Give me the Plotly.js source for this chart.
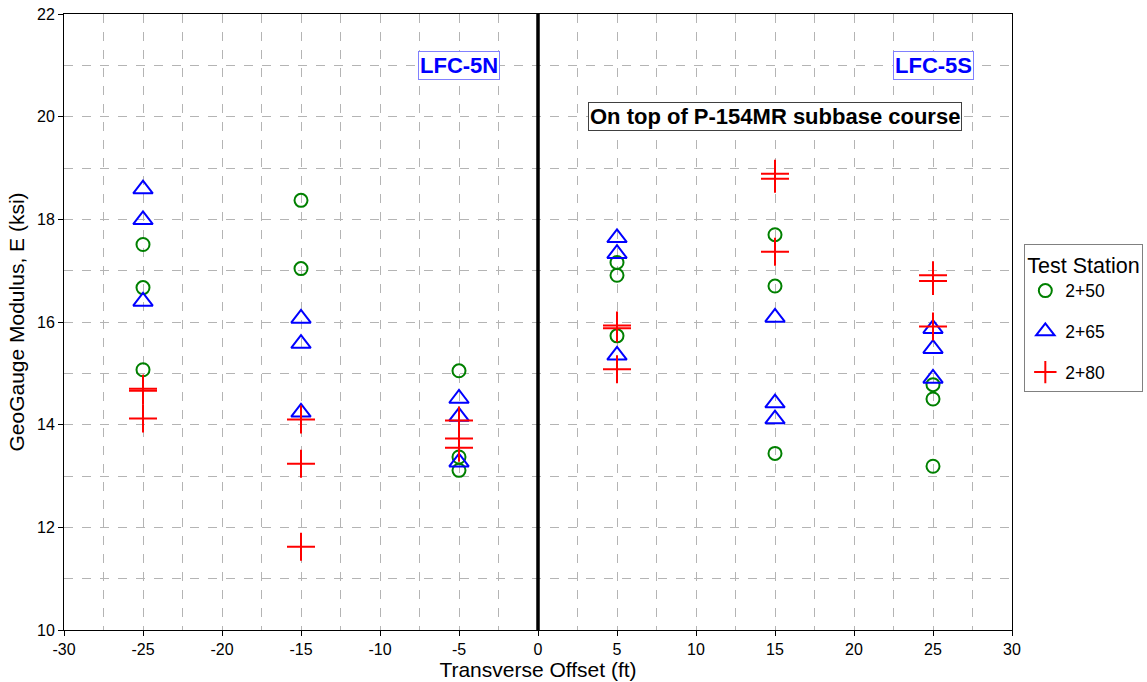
<!DOCTYPE html>
<html>
<head>
<meta charset="utf-8">
<script src="https://cdn.plot.ly/plotly-3.0.1.min.js"></script>
<style>html,body{margin:0;padding:0;background:#fff;}#chart{width:1147px;height:682px;}</style>
</head>
<body>
<div id="chart"></div>
<script>
// Test Station 2+50 (circles)
var x250 = [-25, -25, -25, -15, -15, -5, -5, -5, 5, 5, 5, 15, 15, 15, 25, 25, 25];
var y250 = [17.51, 16.67, 15.07, 18.37, 17.04, 15.05, 13.37, 13.11, 17.16, 16.91, 15.73, 17.70, 16.70, 13.44, 14.78, 14.50, 13.19];
// Test Station 2+65 (triangles)
var x265 = [-25, -25, -25, -15, -15, -15, -5, -5, -5, 5, 5, 5, 15, 15, 15, 25, 25, 25];
var y265 = [18.59, 17.99, 16.40, 16.07, 15.58, 14.24, 14.51, 14.16, 13.27, 17.64, 17.33, 15.35, 16.09, 14.42, 14.11, 15.87, 15.48, 14.90];
// Test Station 2+80 (pluses)
var x280 = [-25, -25, -25, -15, -15, -15, -5, -5, -5, 5, 5, 5, 15, 15, 15, 25, 25, 25];
var y280 = [14.70, 14.66, 14.12, 14.10, 13.24, 11.62, 14.08, 13.73, 13.55, 15.93, 15.88, 15.08, 18.89, 18.79, 17.37, 16.91, 16.80, 15.91];

// Tick labels
var xTickVals = [-30, -25, -20, -15, -10, -5, 0, 5, 10, 15, 20, 25, 30];
var xTickText = ['-30', '-25', '-20', '-15', '-10', '-5', '0', '5', '10', '15', '20', '25', '30'];
var yTickVals = [10, 12, 14, 16, 18, 20, 22];
var yTickText = ['10', '12', '14', '16', '18', '20', '22'];

var seriesNames = ['2+50', '2+65', '2+80'];
var legendTitle = 'Test Station';
var xTitle = 'Transverse Offset (ft)';
var yTitle = 'GeoGauge Modulus, E (ksi)';
var labels = ['LFC-5N', 'LFC-5S', 'On top of P-154MR subbase course'];
var labelX = [-5, 25, 15];
var labelY = [21, 21, 20];

var font = 'Liberation Sans, Arial, sans-serif';

var traces = [
  {x: x250, y: y250, name: seriesNames[0], legendgroup: 'g1', type: 'scatter', mode: 'markers',
   marker: {symbol: 'circle-open', size: 13, color: '#008000', line: {width: 2, color: '#008000'}}},
  {x: x265, y: y265, name: seriesNames[1], legendgroup: 'g2', type: 'scatter', mode: 'markers',
   marker: {symbol: 'triangle-up-open', size: 17, color: '#0000ff', line: {width: 2, color: '#0000ff'}}},
  {x: x280, y: y280, name: seriesNames[2], legendgroup: 'g3', type: 'scatter', mode: 'markers',
   marker: {symbol: 'cross-thin-open', size: 20, color: '#ff0000', line: {width: 2, color: '#ff0000'}}}
];

var layout = {
  width: 1147, height: 682,
  margin: {l: 64, r: 135, t: 14, b: 52, autoexpand: false},
  paper_bgcolor: '#fff', plot_bgcolor: '#fff',
  font: {family: font, size: 16, color: '#000'},
  showlegend: true,
  legend: {
    title: {text: legendTitle, font: {size: 21.5, family: font}},
    x: 1.013, xanchor: 'left', y: 0.627, yanchor: 'top',
    bordercolor: '#808080', borderwidth: 1, bgcolor: '#fff',
    font: {size: 17.5, family: font}, tracegroupgap: 15, itemsizing: 'trace'
  },
  xaxis: {
    range: [-30, 30], tickmode: 'array', tickvals: xTickVals, ticktext: xTickText,
    ticks: 'outside', ticklen: 5, tickcolor: '#000',
    showline: true, linecolor: '#000', linewidth: 1, mirror: true, zeroline: false,
    showgrid: true, griddash: 'dash', gridcolor: '#b4b4b4', gridwidth: 1,
    minor: {dtick: 2.5, showgrid: true, griddash: 'dash', gridcolor: '#b4b4b4', gridwidth: 1},
    tickfont: {size: 16},
    title: {text: xTitle, font: {size: 21}, standoff: 3}
  },
  yaxis: {
    range: [10, 22], tickmode: 'array', tickvals: yTickVals, ticktext: yTickText,
    ticks: 'outside', ticklen: 5, tickcolor: '#000',
    showline: true, linecolor: '#000', linewidth: 1, mirror: true, zeroline: false,
    showgrid: true, griddash: 'dash', gridcolor: '#b4b4b4', gridwidth: 1,
    minor: {dtick: 1, showgrid: true, griddash: 'dash', gridcolor: '#b4b4b4', gridwidth: 1},
    tickfont: {size: 16},
    title: {text: yTitle, font: {size: 21}, standoff: 6}
  },
  shapes: [
    {type: 'line', xref: 'x', yref: 'paper', x0: 0, x1: 0, y0: 0, y1: 1,
     line: {color: '#000', width: 3.5}}
  ],
  annotations: [
    {x: labelX[0], y: labelY[0], xref: 'x', yref: 'y', text: '<b>' + labels[0] + '</b>', showarrow: false,
     font: {size: 22, color: '#0000ff', family: font}, bordercolor: '#8080ff', borderwidth: 1, borderpad: 1, bgcolor: '#fff'},
    {x: labelX[1], y: labelY[1], xref: 'x', yref: 'y', text: '<b>' + labels[1] + '</b>', showarrow: false,
     font: {size: 22, color: '#0000ff', family: font}, bordercolor: '#8080ff', borderwidth: 1, borderpad: 1, bgcolor: '#fff'},
    {x: labelX[2], y: labelY[2], xref: 'x', yref: 'y', text: '<b>' + labels[2] + '</b>', showarrow: false,
     font: {size: 22, color: '#000', family: font}, bordercolor: '#404040', borderwidth: 1, borderpad: 1, bgcolor: '#fff'}
  ]
};

Plotly.newPlot('chart', traces, layout, {displayModeBar: false, staticPlot: true});
</script>
</body>
</html>
